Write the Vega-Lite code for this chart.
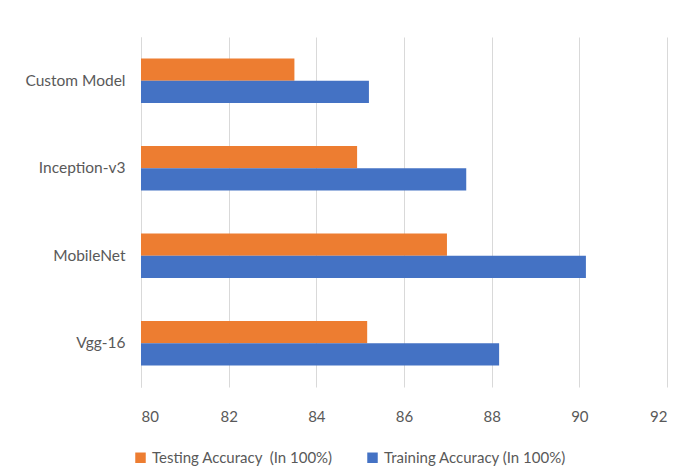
{
  "$schema": "https://vega.github.io/schema/vega-lite/v6.json",
  "width": 526,
  "height": 350,
  "autosize": {"type": "none"},
  "padding": {"left": 141, "top": 37, "right": 16, "bottom": 89},
  "background": "white",
  "data": {
    "values": [
      {"model": "Custom Model", "series": "Testing Accuracy \u00a0(In 100%)", "value": 83.5},
      {"model": "Custom Model", "series": "Training Accuracy (In 100%)", "value": 85.2},
      {"model": "Inception-v3", "series": "Testing Accuracy \u00a0(In 100%)", "value": 84.93},
      {"model": "Inception-v3", "series": "Training Accuracy (In 100%)", "value": 87.42},
      {"model": "MobileNet", "series": "Testing Accuracy \u00a0(In 100%)", "value": 86.98},
      {"model": "MobileNet", "series": "Training Accuracy (In 100%)", "value": 90.15},
      {"model": "Vgg-16", "series": "Testing Accuracy \u00a0(In 100%)", "value": 85.16},
      {"model": "Vgg-16", "series": "Training Accuracy (In 100%)", "value": 88.17}
    ]
  },
  "mark": {"type": "bar"},
  "encoding": {
    "y": {
      "field": "model",
      "type": "nominal",
      "sort": ["Custom Model", "Inception-v3", "MobileNet", "Vgg-16"],
      "scale": {"paddingInner": 0.49, "paddingOuter": 0.245},
      "axis": {
        "title": null,
        "ticks": false,
        "labelPadding": 16,
        "labelFontSize": 15.5,
        "labelFont": "Lato",
        "labelColor": "#595959",
        "domainColor": "#d9d9d9",
        "grid": false
      }
    },
    "yOffset": {
      "field": "series",
      "type": "nominal",
      "sort": ["Testing Accuracy \u00a0(In 100%)", "Training Accuracy (In 100%)"],
      "scale": {"paddingInner": 0, "paddingOuter": 0}
    },
    "x": {
      "field": "value",
      "type": "quantitative",
      "scale": {"domain": [80, 92], "nice": false, "zero": false},
      "axis": {
        "title": null,
        "values": [80, 82, 84, 86, 88, 90, 92],
        "ticks": false,
        "domain": false,
        "labelPadding": 22,
        "labelFontSize": 15,
        "labelFont": "Lato",
        "labelColor": "#595959",
        "gridColor": "#d9d9d9",
        "gridWidth": 1
      }
    },
    "x2": {"datum": 80},
    "color": {
      "field": "series",
      "type": "nominal",
      "scale": {
        "domain": ["Testing Accuracy \u00a0(In 100%)", "Training Accuracy (In 100%)"],
        "range": ["#ED7D31", "#4472C4"]
      },
      "legend": {
        "title": null,
        "orient": "bottom",
        "direction": "horizontal",
        "symbolType": "square",
        "symbolSize": 110,
        "symbolStrokeWidth": 0,
        "symbolOffset": -8,
        "labelFontSize": 15,
        "labelFont": "Lato",
        "labelColor": "#595959",
        "labelLimit": 400,
        "columnPadding": 34,
        "offset": 26
      }
    }
  },
  "config": {"view": {"stroke": null}}
}
